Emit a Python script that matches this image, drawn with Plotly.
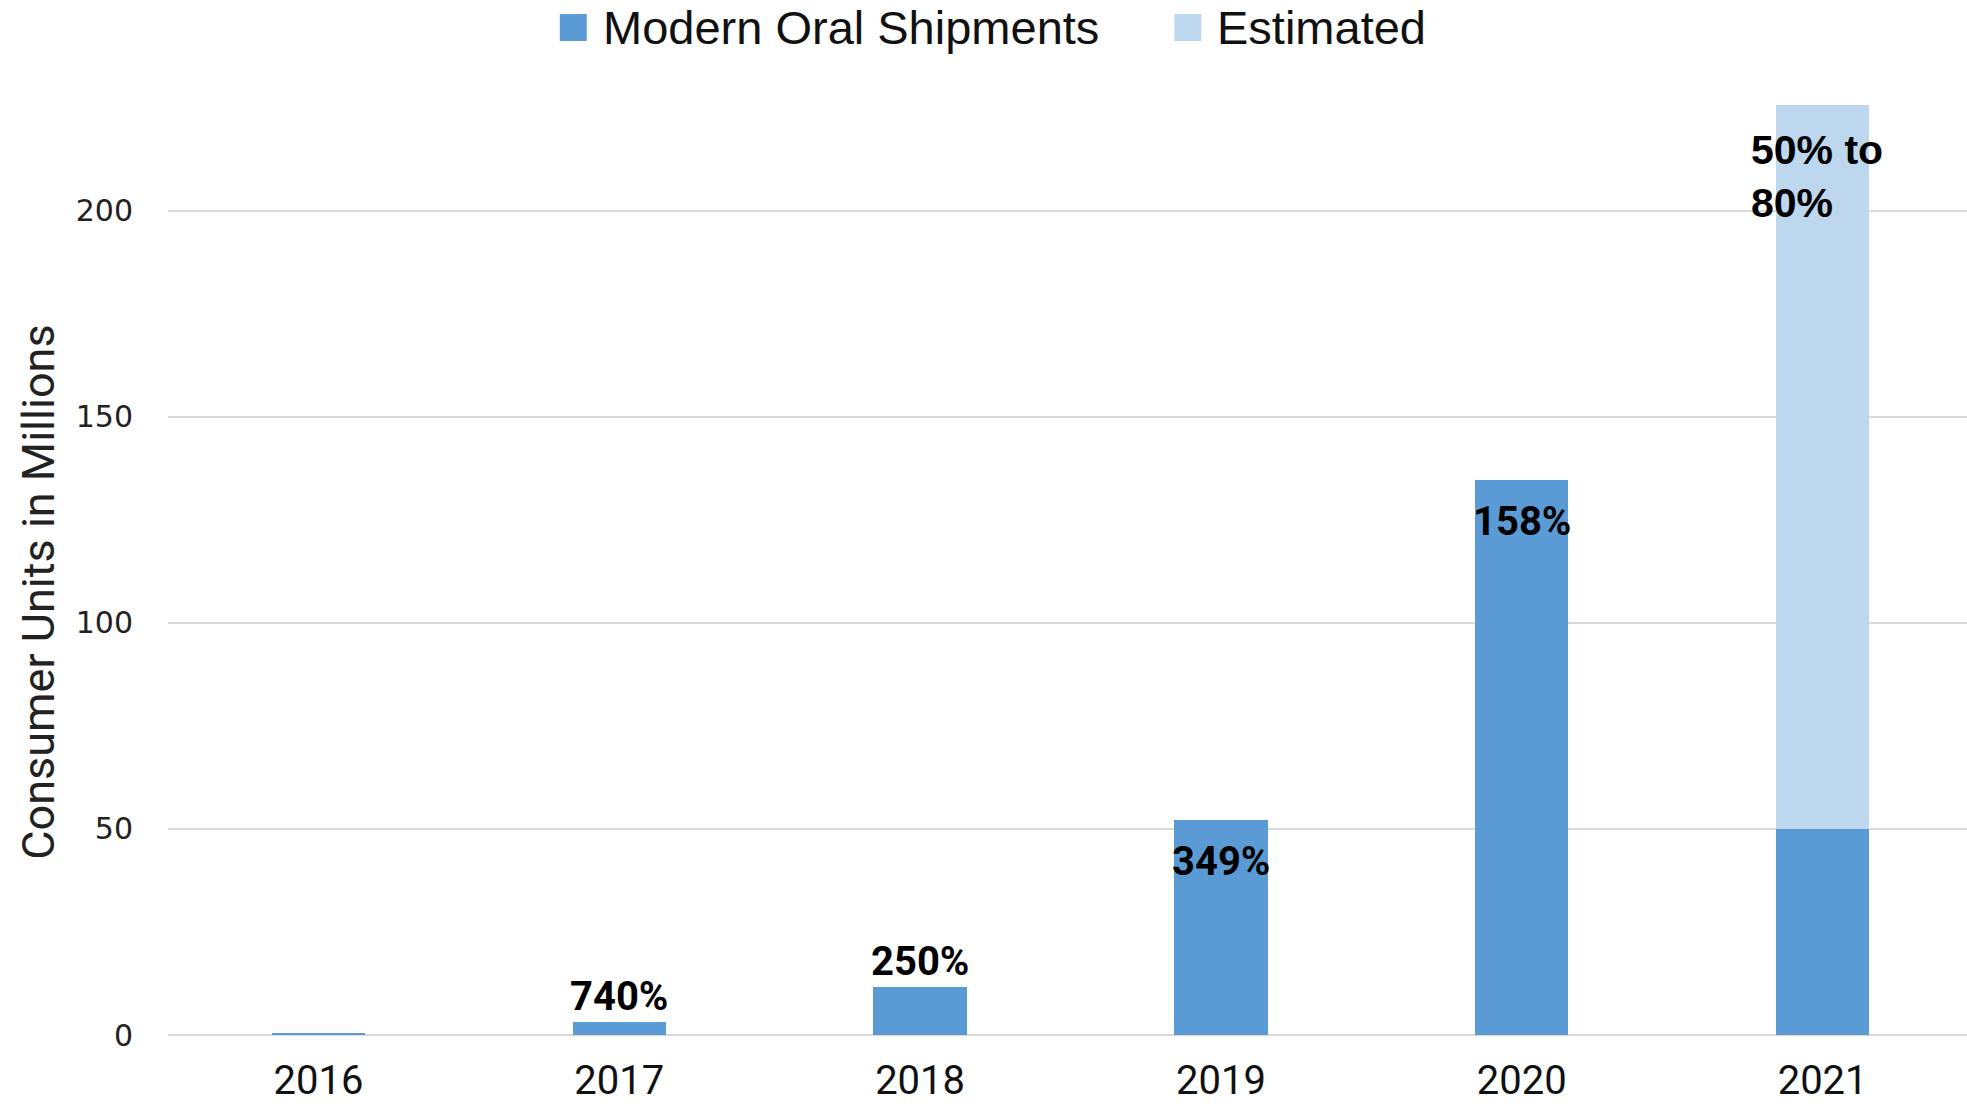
import plotly.graph_objects as go

# Shipment data (consumer units, millions)
years = ["2016", "2017", "2018", "2019", "2020", "2021"]
shipments = [0.4, 3.2, 11.6, 52.2, 134.6, 50.0]
estimated = [None, None, None, None, None, 175.7]
growth_labels = [None, "740%", "250%", "349%", "158%", "50% to<br>80%"]

series_names = ["Modern Oral Shipments", "Estimated"]
y_ticks = [0, 50, 100, 150, 200]

DARK_BLUE = "#5B9BD5"
LIGHT_BLUE = "#BDD7EE"
GRID = "#D9D9D9"
COND = "Roboto, Liberation Sans, Arial, sans-serif"

fig = go.Figure()
fig.add_trace(go.Bar(x=years, y=shipments, name=series_names[0],
                     marker=dict(color=DARK_BLUE, line=dict(width=0)),
                     showlegend=False))
fig.add_trace(go.Bar(x=years, y=estimated, name=series_names[1],
                     marker=dict(color=LIGHT_BLUE, line=dict(width=0)),
                     showlegend=False))

# growth labels: above short bars, inside tall bars (x given as category index)
annotations = []
totals = [s + (e or 0) for s, e in zip(shipments, estimated)]
for i, lab in enumerate(growth_labels):
    if not lab:
        continue
    if i in (1, 2):
        annotations.append(dict(x=i, y=totals[i], text=f"<b>{lab}</b>", showarrow=False,
                                yanchor="bottom", yshift=0,
                                font=dict(family=COND, size=40, color="black")))
    elif i in (3, 4):
        annotations.append(dict(x=i, y=totals[i], text=f"<b>{lab}</b>", showarrow=False,
                                yanchor="top", yshift=-16,
                                font=dict(family=COND, size=40, color="black")))
    else:
        annotations.append(dict(x=i, y=totals[i], text=f"<b>{lab}</b>", showarrow=False,
                                xanchor="left", yanchor="top", xshift=-74, yshift=-20,
                                align="left",
                                font=dict(family="Liberation Sans, Arial, sans-serif",
                                          size=41, color="black")))

# y-axis title
annotations.append(dict(xref="paper", yref="paper", x=-0.072, y=0.467,
                        text="Consumer Units in Millions", textangle=-90,
                        showarrow=False, xanchor="center", yanchor="middle",
                        font=dict(family=COND, size=45, color="#222222")))

# legend drawn as swatches + labels along the top
shapes = []
legend_items = [(0.2178, series_names[0], DARK_BLUE), (0.5594, series_names[1], LIGHT_BLUE)]
for x0, name, col in legend_items:
    shapes.append(dict(type="rect", xref="paper", yref="paper",
                       x0=x0, x1=x0 + 0.015, y0=1.0485, y1=1.077,
                       fillcolor=col, line=dict(width=0)))
    annotations.append(dict(xref="paper", yref="paper", x=x0 + 0.0228, y=1.0625,
                            text=name, showarrow=False, xanchor="left", yanchor="middle",
                            font=dict(family="Liberation Sans, Arial, sans-serif",
                                      size=47, color="#111111")))

fig.update_layout(
    barmode="stack",
    bargap=0.69,
    width=1967, height=1109,
    margin=dict(l=168, r=0, t=87, b=74, autoexpand=False),
    paper_bgcolor="white", plot_bgcolor="white",
    annotations=annotations, shapes=shapes,
    showlegend=False,
)
fig.update_xaxes(type="category", range=[-0.5, 5.48], showgrid=False, showline=False,
                 ticks="", ticklabelstandoff=18, automargin=False,
                 tickfont=dict(family=COND, size=40, color="#111111"))
fig.update_yaxes(range=[0, 230], tickvals=y_ticks, showgrid=True, gridcolor=GRID,
                 gridwidth=2, zeroline=True, zerolinecolor=GRID, zerolinewidth=2,
                 showline=False, ticks="", ticklabelstandoff=34, automargin=False,
                 tickfont=dict(family="DejaVu Sans, Verdana, sans-serif", size=30,
                               color="#222222"))

fig.write_html("out.html")
